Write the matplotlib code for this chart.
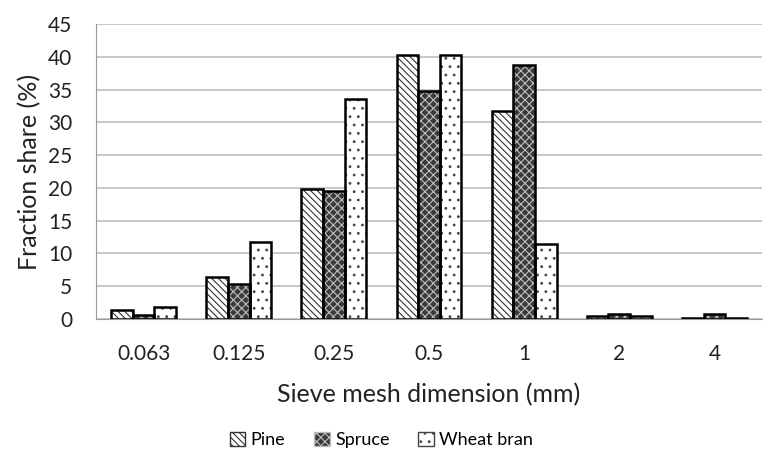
import numpy as np
import matplotlib
matplotlib.use("Agg")
from matplotlib import pyplot as plt
from matplotlib.patches import Patch

categories = ["0.063", "0.125", "0.25", "0.5", "1", "2", "4"]
pine = [1.4, 6.4, 19.8, 40.2, 31.7, 0.5, 0.1]
spruce = [0.6, 5.3, 19.5, 34.8, 38.8, 0.7, 0.7]
wheat_bran = [1.9, 11.8, 33.6, 40.3, 11.5, 0.5, 0.1]

plt.rcParams["font.family"] = ["Lato", "DejaVu Sans"]
plt.rcParams["hatch.linewidth"] = 0.8

fig = plt.figure(figsize=(7.63, 4.66), dpi=100)
# axes box: x 96..762 px, y 24..319 px
ax = fig.add_axes([96 / 763, 1 - 319 / 466, 666 / 763, 295 / 466])

x = np.arange(len(categories))
w = 0.227

styles = [
    (pine, "white", "#333333", "\\\\\\\\\\", "Pine"),
    (spruce, "#3a3a3a", "#bdbdbd", "xxxx", "Spruce"),
    (wheat_bran, "white", "#444444", "..", "Wheat bran"),
]

handles = []
for i, (vals, fc, hc, hatch, name) in enumerate(styles):
    pos = x + (i - 1) * w
    ax.bar(pos, vals, w, color=fc, edgecolor=hc, hatch=hatch, linewidth=0, zorder=2)
    ax.bar(pos, vals, w, color="none", edgecolor="black", linewidth=1.8, zorder=3)
    handles.append(Patch(facecolor=fc, edgecolor=hc, hatch=hatch, label=name))

ax.set_ylim(0, 45)
ax.set_yticks(range(0, 46, 5))
ax.set_xlim(-0.5, len(categories) - 0.5)
ax.set_xticks(x)
ax.set_xticklabels(categories)
ax.grid(axis="y", color="#bfbfbf", linewidth=1.2, zorder=0)
ax.set_axisbelow(True)
for s in ["top", "right"]:
    ax.spines[s].set_visible(False)
ax.spines["bottom"].set_color("#999999")
ax.spines["left"].set_color("#999999")
ax.tick_params(length=0, labelsize=15, colors="#222222")
ax.tick_params(axis="y", pad=17)
ax.tick_params(axis="x", pad=18)

ax.set_xlabel("Sieve mesh dimension (mm)", fontsize=18, labelpad=14, color="#222222")
ax.set_ylabel("Fraction share (%)", fontsize=18, labelpad=5, color="#222222")

fig.legend(handles=handles, loc="center", bbox_to_anchor=(0.5, 1 - 440 / 466), ncol=3,
           frameon=False, fontsize=13, handlelength=0.85, handleheight=0.85,
           handletextpad=0.3, columnspacing=1.6)

fig.savefig("out.png", dpi=100)
